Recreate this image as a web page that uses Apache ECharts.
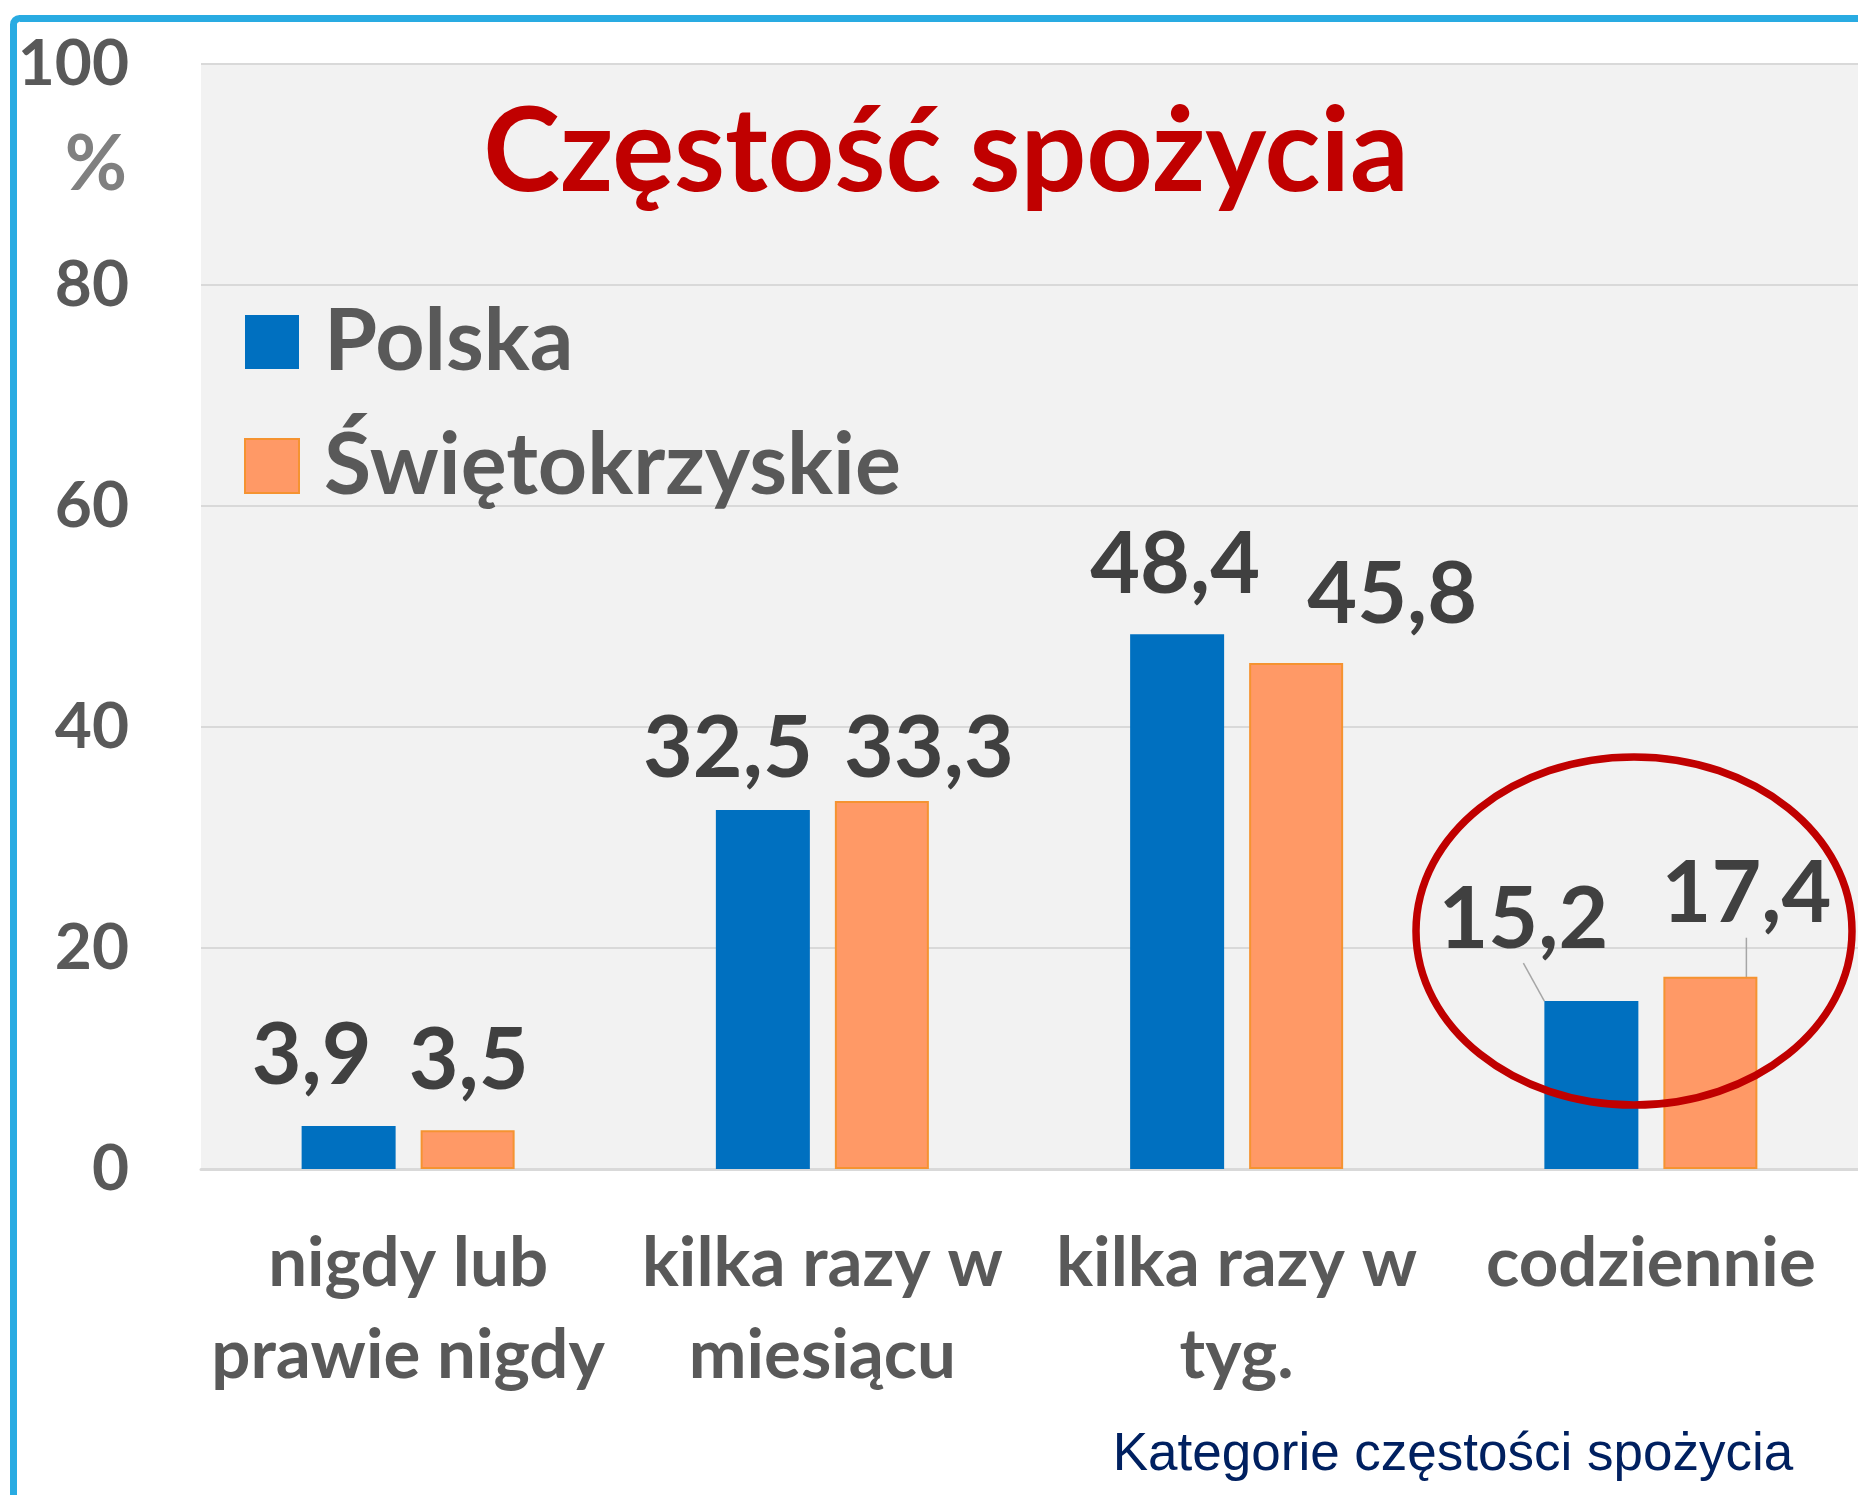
<!DOCTYPE html>
<html>
<head>
<meta charset="utf-8">
<script src="https://cdn.jsdelivr.net/npm/echarts@6/dist/echarts.min.js"></script>
<style>
  html, body { margin: 0; padding: 0; background: #ffffff; }
  #chart { width: 1858px; height: 1495px; }
</style>
</head>
<body>
<div id="chart"></div>
<script>
// ---- data ----
const categories = ['nigdy lub\nprawie nigdy', 'kilka razy w\nmiesiącu', 'kilka razy w\ntyg.', 'codziennie'];
const seriesNames = ['Polska', 'Świętokrzyskie'];
const polska = [3.9, 32.5, 48.4, 15.2];
const swietokrzyskie = [3.5, 33.3, 45.8, 17.4];
const yMin = 0, yMax = 100, yStep = 20;
const titleText = 'Częstość spożycia';
const yUnit = '%';
const xAxisTitle = 'Kategorie częstości spożycia';
const highlightCategory = 3; // encircled group, labels with leader lines

// ---- styles ----
const FONT = 'Lato, "Open Sans", "Noto Sans", sans-serif';
const BLUE = '#0070C0', ORANGE = '#FF9966', ORANGE_EDGE = '#F59331';
const TEXT = '#595959';
// label shifts (px) per series, per category
const labelShift = [
  [[-37, -22], [-35, -13], [-2, -21], [-68, -33]],
  [[1, -21], [47, -4], [96, -20], [36, -34]]
];

function items(values) {
  return values.map((v, i) => ({
    value: v,
    labelLine: { show: i === highlightCategory }
  }));
}

const chart = echarts.init(document.getElementById('chart'), null, { renderer: 'canvas' });

const labelCommon = {
  show: true,
  position: 'top',
  distance: 5,
  fontFamily: FONT,
  fontSize: 86,
  fontWeight: 'bold',
  color: '#404040',
  formatter: p => String(p.value).replace('.', ',')
};

chart.setOption({
  backgroundColor: '#ffffff',
  animation: false,
  grid: {
    left: 201, top: 64, width: 1664, height: 1105,
    show: true, backgroundColor: '#f2f2f2', borderWidth: 0
  },
  legend: {
    orient: 'vertical',
    left: 239, top: 292,
    itemWidth: 54, itemHeight: 54, itemGap: 34,
    icon: 'rect',
    textStyle: { fontFamily: FONT, fontSize: 86, fontWeight: 'bold', color: TEXT, lineHeight: 90, padding: [0, 0, 0, 20] },
    data: seriesNames
  },
  xAxis: {
    type: 'category',
    data: categories,
    axisLine: { show: true, lineStyle: { color: '#d9d9d9', width: 3 } },
    axisTick: { show: false },
    axisLabel: {
      interval: 0, margin: 49,
      fontFamily: FONT, fontSize: 69, fontWeight: 'bold', color: TEXT, lineHeight: 92
    }
  },
  yAxis: {
    type: 'value',
    min: yMin, max: yMax, interval: yStep,
    axisLine: { show: false },
    axisTick: { show: false },
    splitLine: { lineStyle: { color: '#d9d9d9', width: 2 } },
    axisLabel: { margin: 72, fontFamily: FONT, fontSize: 64, fontWeight: 'bold', color: TEXT }
  },
  series: [
    {
      name: seriesNames[0], type: 'bar',
      data: items(polska),
      barWidth: 94, barGap: '26.6%',
      itemStyle: { color: BLUE },
      label: labelCommon,
      labelLine: { lineStyle: { color: '#a6a6a6', width: 1.5 } },
      labelLayout: p => ({ dx: labelShift[0][p.dataIndex][0], dy: labelShift[0][p.dataIndex][1] })
    },
    {
      name: seriesNames[1], type: 'bar',
      data: items(swietokrzyskie),
      barWidth: 94, barGap: '26.6%',
      itemStyle: { color: ORANGE, borderColor: ORANGE_EDGE, borderWidth: 2 },
      label: labelCommon,
      labelLine: { lineStyle: { color: '#a6a6a6', width: 1.5 } },
      labelLayout: p => ({ dx: labelShift[1][p.dataIndex][0], dy: labelShift[1][p.dataIndex][1] })
    }
  ],
  graphic: [
    {
      type: 'text', z: 50,
      style: {
        x: 946, y: 154, text: titleText,
        font: 'bold 116px ' + FONT, fill: '#C00000',
        textAlign: 'center', textVerticalAlign: 'middle',
        shadowColor: 'rgba(0,0,0,0.45)', shadowBlur: 5, shadowOffsetX: 4, shadowOffsetY: 4
      }
    },
    {
      type: 'text', z: 50,
      style: {
        x: 96, y: 165, text: yUnit,
        font: 'bold 76px ' + FONT, fill: '#808080',
        textAlign: 'center', textVerticalAlign: 'middle'
      }
    },
    {
      type: 'text', z: 50,
      style: {
        x: 1453, y: 1455, text: xAxisTitle,
        font: '53px "Liberation Sans", Arial, sans-serif', fill: '#002060',
        textAlign: 'center', textVerticalAlign: 'middle'
      }
    },
    {
      type: 'ellipse', z: 100,
      shape: { cx: 1634, cy: 931, rx: 218, ry: 174 },
      style: { fill: null, stroke: '#C00000', lineWidth: 7.5 }
    },
    {
      type: 'rect', z: 100,
      shape: { x: 13.5, y: 18.5, width: 2000, height: 2000, r: 6 },
      style: { fill: null, stroke: '#29ABE2', lineWidth: 7 }
    }
  ]
});
</script>
</body>
</html>
